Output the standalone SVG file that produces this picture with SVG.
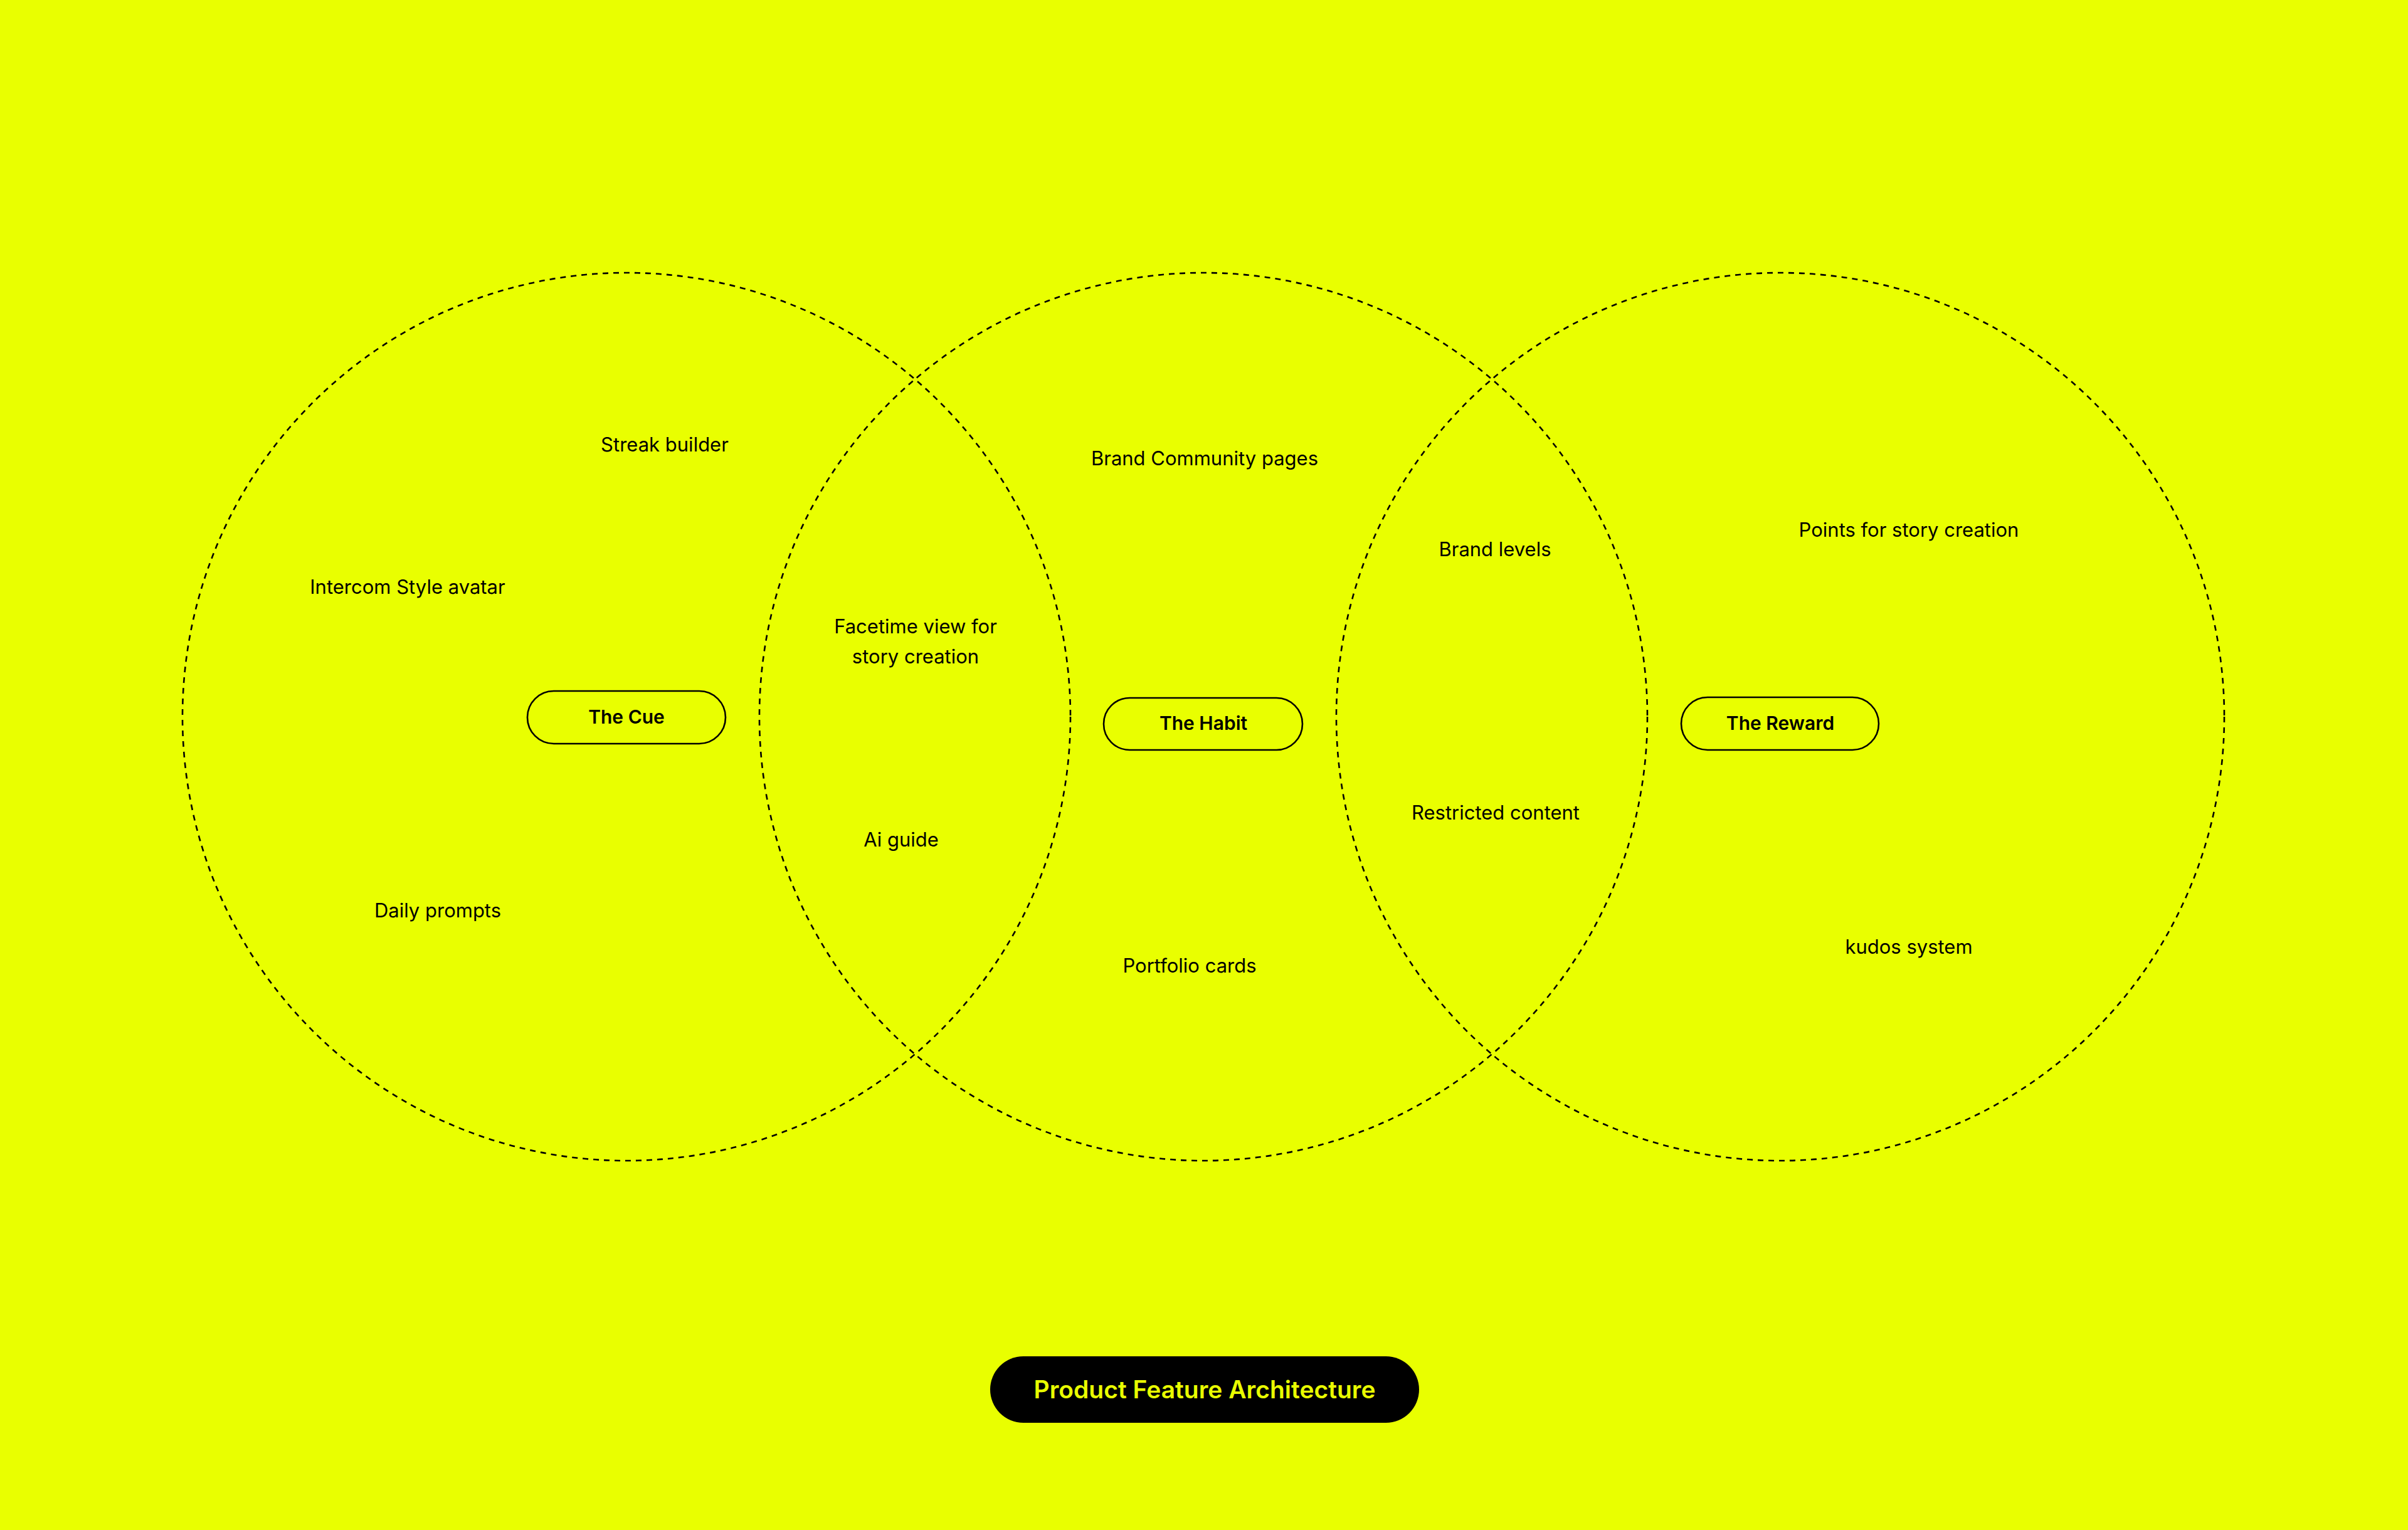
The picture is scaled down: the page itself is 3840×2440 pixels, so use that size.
<svg xmlns="http://www.w3.org/2000/svg" width="3840" height="2440" viewBox="0 0 3840 2440">
<style>
.ring{fill:none;stroke:#000;stroke-width:2.6;stroke-dasharray:9 8}
.lbl{font-family:Inter,"Liberation Sans",sans-serif;font-size:31px;fill:#000;text-anchor:middle}
.pill{fill:none;stroke:#000;stroke-width:2.6}
.ptxt{font-family:Inter,"Liberation Sans",sans-serif;font-size:30px;font-weight:600;fill:#000;text-anchor:middle}
.title{font-family:Inter,"Liberation Sans",sans-serif;font-size:39px;font-weight:600;fill:#E9FF00;text-anchor:middle}
</style>
<rect width="3840" height="2440" fill="#E9FF00"/>
<g id="circles">
<circle class="ring" cx="999" cy="1143" r="708"/>
<circle class="ring" cx="1919" cy="1143" r="708"/>
<circle class="ring" cx="2839" cy="1143" r="708"/>
</g>
<g id="cue"><rect class="pill" x="841" y="1102" width="316" height="84" rx="42"/><text class="ptxt" x="999" y="1154">The Cue</text></g>
<g id="habit"><rect class="pill" x="1760" y="1113" width="317" height="83" rx="41.5"/><text class="ptxt" x="1919" y="1164">The Habit</text></g>
<g id="reward"><rect class="pill" x="2681" y="1112" width="315" height="84" rx="42"/><text class="ptxt" x="2839" y="1164">The Reward</text></g>
<g id="streak"><text class="lbl" x="1060" y="720">Streak builder</text></g>
<g id="intercom"><text class="lbl" x="650" y="947">Intercom Style avatar</text></g>
<g id="daily"><text class="lbl" x="698" y="1463">Daily prompts</text></g>
<g id="facetime"><text class="lbl" x="1460" y="1010">Facetime view for</text><text class="lbl" x="1460" y="1058">story creation</text></g>
<g id="aiguide"><text class="lbl" x="1437" y="1350">Ai guide</text></g>
<g id="brandcommunity"><text class="lbl" x="1921" y="742">Brand Community pages</text></g>
<g id="portfolio"><text class="lbl" x="1897" y="1551">Portfolio cards</text></g>
<g id="brandlevels"><text class="lbl" x="2384" y="887">Brand levels</text></g>
<g id="restricted"><text class="lbl" x="2385" y="1307">Restricted content</text></g>
<g id="points"><text class="lbl" x="3044" y="856">Points for story creation</text></g>
<g id="kudos"><text class="lbl" x="3044" y="1521">kudos system</text></g>
<g id="title"><rect x="1579" y="2163" width="684" height="106" rx="53" fill="#000"/><text class="title" x="1921" y="2230">Product Feature Architecture</text></g>
<g id="connectors"></g>
</svg>
